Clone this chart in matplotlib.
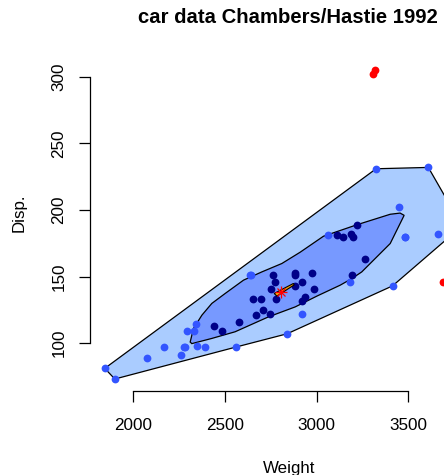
import matplotlib
matplotlib.use("Agg")
import matplotlib.pyplot as plt
import numpy as np

plt.rcParams['font.family'] = ['Liberation Sans', 'DejaVu Sans']

# car.test.frame: Weight / Disp., split by bagplot region
bag_w = [2440, 2885, 2695, 2710, 2775, 2485, 2670, 2655, 2750, 2920, 2780, 2745,
         3110, 2920, 2575, 2935, 2985, 3265, 2880, 2975, 3145, 3190, 2885, 3200,
         2765, 3220, 3195]
bag_d = [113, 153, 133, 125, 146, 109, 121, 133, 141, 132, 133, 122,
         181, 146, 116, 135, 141, 163, 151, 153, 180, 182, 143, 180,
         151, 189, 151]

loop_w = [2560, 2345, 1845, 2260, 2285, 2275, 2350, 2295, 1900, 2390, 2075, 2330,
          2170, 2840, 2640, 3065, 2645, 2920, 3450, 3610, 3480, 3480, 3325,
          3735, 3665, 3735, 3415, 3185]
loop_d = [97, 114, 81, 91, 97, 97, 98, 109, 73, 97, 89, 109,
          97, 107, 151, 181, 151, 122, 202, 232, 180, 180, 231,
          202, 182, 181, 143, 146]

out_w = [3320, 3310, 3855, 3850, 3690]
out_d = [305, 302, 305, 302, 146]

# hulls
loop_hull_w = [1845, 3325, 3610, 3735, 3735, 3415, 2840, 2560, 1900]
loop_hull_d = [81, 231, 232, 202, 181, 143, 107, 97, 73]

bag_hull_w = [2311, 2329, 2375, 2429, 2502, 2602, 2702, 2811, 2911, 3038, 3220, 3402, 3456, 3478,
              3402, 3247, 3193, 3129, 3002, 2884, 2738, 2556, 2429, 2320]
bag_hull_d = [100.8, 111, 121, 129.8, 137.3, 147.3, 153.5, 159.8, 168.3, 180.3, 188.9, 196.8, 197.7, 196,
              174.8, 153.5, 148.5, 143.5, 135.3, 127.2, 119.7, 108.5, 103.5, 99.6]

center_w = [2769, 2874, 2878, 2784]
center_d = [137.3, 144.8, 143.7, 135.3]
median_w, median_d = 2806, 138.5

fig = plt.figure(figsize=(4.44, 4.75), dpi=100)
ax = fig.add_axes([90/444, (475-391.4)/475, 398/444, (391.4-35)/475])

ax.fill(loop_hull_w, loop_hull_d, facecolor='#aaccff', edgecolor='black', linewidth=0.9, zorder=1)
ax.fill(bag_hull_w, bag_hull_d, facecolor='#7799ff', edgecolor='black', linewidth=0.9, zorder=2)
ax.plot(loop_w, loop_d, 'o', color='#3355ff', markersize=5.6, markeredgewidth=0, zorder=3)
ax.plot(bag_w, bag_d, 'o', color='#000088', markersize=5.6, markeredgewidth=0, zorder=4)
ax.plot(out_w, out_d, 'o', color='red', markersize=5.6, markeredgewidth=0, zorder=4, clip_on=False)
ax.fill(center_w, center_d, facecolor='orange', edgecolor='black', linewidth=0.8, zorder=5)
ax.plot([median_w], [median_d], '+', color='red', markersize=8, markeredgewidth=0.9, zorder=6)
ax.plot([median_w], [median_d], 'x', color='red', markersize=6, markeredgewidth=0.9, zorder=6)

ax.set_xlim(1764.6, 3935.4)
ax.set_ylim(63.7, 331.5)
ax.set_facecolor('none')
for s in ['top', 'right']:
    ax.spines[s].set_visible(False)
ax.spines['left'].set_bounds(100, 300)
ax.spines['bottom'].set_bounds(2000, 3500)
ax.spines['left'].set_linewidth(0.9)
ax.spines['bottom'].set_linewidth(0.9)
ax.set_xticks([2000, 2500, 3000, 3500])
ax.set_yticks([100, 150, 200, 250, 300])
ax.tick_params(axis='both', length=7.9, width=0.9, labelsize=12.3)
ax.tick_params(axis='x', pad=11)
ax.tick_params(axis='y', pad=9)
plt.setp(ax.get_yticklabels(), rotation=90, va='center')

fig.text(287.5/444, 1 - 23/475, 'car data Chambers/Hastie 1992', ha='center', va='baseline',
         fontsize=14.6, fontweight='bold')
fig.text(289/444, 1 - 473/475, 'Weight', ha='center', va='baseline', fontsize=12.2)
fig.text(24/444, 1 - 213/475, 'Disp.', ha='center', va='baseline', rotation=90,
         rotation_mode='anchor', fontsize=12.2)

plt.savefig('out.png', dpi=100)
